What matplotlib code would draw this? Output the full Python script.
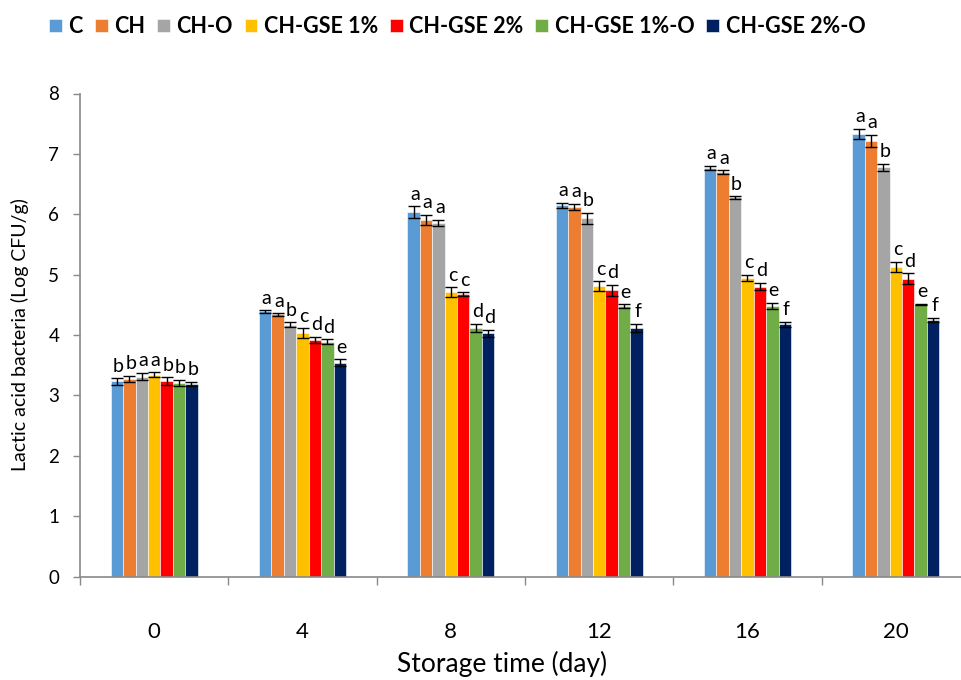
import matplotlib
matplotlib.use("Agg")
import matplotlib.pyplot as plt
import numpy as np

days = ["0", "4", "8", "12", "16", "20"]
series = ["C", "CH", "CH-O", "CH-GSE 1%", "CH-GSE 2%", "CH-GSE 1%-O", "CH-GSE 2%-O"]
colors = ["#5B9BD5", "#ED7D31", "#A5A5A5", "#FFC000", "#FF0000", "#70AD47", "#002060"]

C      = [3.23, 4.39, 6.03, 6.15, 6.77, 7.33]
CH     = [3.27, 4.34, 5.91, 6.12, 6.70, 7.22]
CH_O   = [3.31, 4.17, 5.86, 5.93, 6.28, 6.78]
GSE1   = [3.34, 4.03, 4.71, 4.81, 4.95, 5.13]
GSE2   = [3.24, 3.92, 4.68, 4.74, 4.80, 4.93]
GSE1_O = [3.21, 3.89, 4.12, 4.48, 4.48, 4.51]
GSE2_O = [3.19, 3.54, 4.03, 4.12, 4.18, 4.25]

C_err      = [0.05, 0.02, 0.10, 0.04, 0.03, 0.09]
CH_err     = [0.05, 0.02, 0.08, 0.05, 0.03, 0.10]
CH_O_err   = [0.06, 0.04, 0.05, 0.09, 0.02, 0.06]
GSE1_err   = [0.04, 0.08, 0.08, 0.08, 0.05, 0.08]
GSE2_err   = [0.06, 0.05, 0.03, 0.09, 0.06, 0.09]
GSE1_O_err = [0.05, 0.04, 0.07, 0.03, 0.05, 0.01]
GSE2_O_err = [0.03, 0.06, 0.06, 0.07, 0.04, 0.03]

C_let      = ["b", "a", "a", "a", "a", "a"]
CH_let     = ["b", "a", "a", "a", "a", "a"]
CH_O_let   = ["a", "b", "a", "b", "b", "b"]
GSE1_let   = ["a", "c", "c", "c", "c", "c"]
GSE2_let   = ["b", "d", "c", "d", "d", "d"]
GSE1_O_let = ["b", "d", "d", "e", "e", "e"]
GSE2_O_let = ["b", "e", "d", "f", "f", "f"]

values = [C, CH, CH_O, GSE1, GSE2, GSE1_O, GSE2_O]
errors = [C_err, CH_err, CH_O_err, GSE1_err, GSE2_err, GSE1_O_err, GSE2_O_err]
letters = [C_let, CH_let, CH_O_let, GSE1_let, GSE2_let, GSE1_O_let, GSE2_O_let]

plt.rcParams['font.family'] = ['Lato', 'DejaVu Sans']

fig = plt.figure(figsize=(9.62, 6.80), dpi=100)
ax = fig.add_axes([80/962, 1 - 576.5/680, 890/962, 483/680])

x = np.arange(len(days))
bw = 0.0838
n = len(series)
for i in range(n):
    xs = x + (i - (n - 1) / 2) * bw
    ax.bar(xs, values[i], width=bw, color=colors[i], edgecolor="white",
           linewidth=0.4, label=series[i], zorder=2)
    ax.errorbar(xs, values[i], yerr=errors[i], fmt="none", ecolor="black",
                elinewidth=1.0, capsize=4.5, capthick=1.0, zorder=3)
    for j in range(len(days)):
        ax.text(xs[j] + 0.01, values[i][j] + errors[i][j] + 0.06, letters[i][j],
                ha="center", va="bottom", fontsize=14, color="black", zorder=4)

ax.set_xlim(-0.5, len(days) - 0.5)
ax.set_ylim(0, 8)
ax.set_yticks(range(0, 9))
ax.set_xticks(x)
ax.set_xticklabels(days, fontsize=16)
ax.set_xticks(np.arange(-0.5, len(days), 1), minor=True)
ax.tick_params(axis="x", which="major", length=0, pad=33)
ax.tick_params(axis="x", which="minor", length=6, color="#898989", width=1)
ax.tick_params(axis="y", length=5, color="#898989", width=1, labelsize=13.5, pad=10)

for s in ["top", "right"]:
    ax.spines[s].set_visible(False)
for s in ["left", "bottom"]:
    ax.spines[s].set_color("#898989")
    ax.spines[s].set_linewidth(1.2)

ax.set_ylabel("Lactic acid bacteria (Log CFU/g)", fontsize=14, labelpad=14)
fig.text(502/962, 1 - 664/680, "Storage time (day)", fontsize=19,
         ha="center", va="center")

leg = fig.legend(loc="upper left", bbox_to_anchor=(49/962, 1 - 16/680), ncol=7,
                 frameon=False, handlelength=0.6, handleheight=0.6,
                 handletextpad=0.3, columnspacing=0.55, borderpad=0,
                 borderaxespad=0,
                 prop={"weight": "bold", "size": 15.5})

fig.savefig("out.png", dpi=100)
